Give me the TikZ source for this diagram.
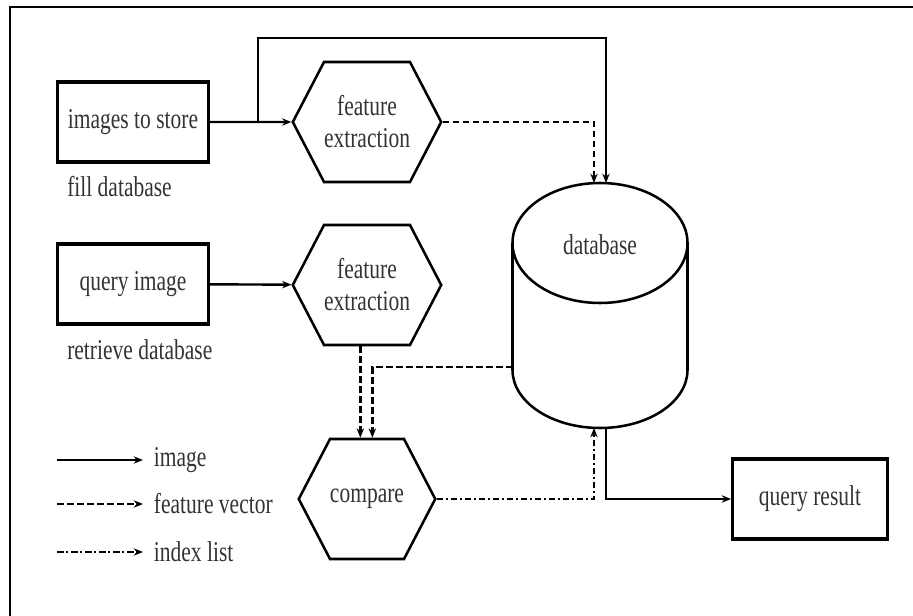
\documentclass[tikz,border=0pt]{standalone}
\usepackage{fontspec}
\setmainfont{Liberation Serif}[FakeStretch=0.75]
\usepackage{tikz}
\usetikzlibrary{shapes.symbols,arrows.meta}

\tikzset{
  box/.style={draw, line width=2.4pt, minimum width=113pt, minimum height=60pt},
  hexa/.style={draw, line width=1.9pt, shape=signal, signal to=east and west,
    signal pointer angle=125, minimum width=97.5pt, minimum height=90pt,
    align=center, inner sep=0pt},
  img/.style={line width=1.8pt, -{Stealth[length=7pt,width=5.5pt]}},
  fvec/.style={img, dash pattern=on 5pt off 2.5pt},
  idx/.style={img, dash pattern=on 5pt off 2pt on 1.5pt off 2pt}
}

\begin{document}
\begin{tikzpicture}[x=0.75pt, y=-0.75pt, font=\fontsize{21.5}{24}\selectfont, text=black!80]
  \useasboundingbox (0,0) rectangle (913,616);
  \draw[line width=2.2pt] (10,616) -- (10,7) -- (913,7);

  \node[box] (store) at (133,122) {images to store};
  \node[anchor=west, inner sep=0pt] (fill) at (67,187) {fill database};
  \node[box] (qimg) at (133,284) {query image};
  \node[anchor=west, inner sep=0pt] (retr) at (67,350) {retrieve database};

  \node[hexa] (fe1) at (367,122) {feature\\extraction};
  \node[hexa] (fe2) at (367,285) {feature\\extraction};
  \node[hexa] (cmp) at (367,499) {compare};

  \node[box, minimum width=116pt] (res) at (810,499) {query result};

  % database cylinder
  \draw[line width=1.9pt] (600,243) ellipse [x radius=87.5, y radius=60];
  \draw[line width=1.9pt] (512.5,243) -- (512.5,370)
    arc[start angle=180, end angle=0, x radius=87.5, y radius=58] -- (687.5,243);
  \node (db) at (600,245) {database};
  \coordinate (dbtopL) at (594,183);
  \coordinate (dbtopR) at (606,183);
  \coordinate (dbbotL) at (594,428);
  \coordinate (dbbotR) at (606,428);
  \coordinate (dbleft) at (512.5,367);
  \coordinate (split) at (258,122);

  \draw[img] (store) -- (fe1);
  \draw[img] (split) -- ++(0,-84) -| (dbtopR);
  \draw[fvec] (fe1) -| (dbtopL);
  \draw[img] (qimg) -- (fe2);
  \draw[fvec] ([xshift=-5pt]fe2.south) -- ([xshift=-5pt]cmp.north);
  \draw[fvec] (dbleft) -| ([xshift=4pt]cmp.north);
  \draw[idx] (cmp) -| (dbbotL);
  \draw[img] (dbbotR) |- (res);

  % legend
  \coordinate (l1) at (57,460);
  \coordinate (l2) at (57,504);
  \coordinate (l3) at (57,552);
  \node[anchor=west, inner xsep=8pt] (limg) at (143,460) {image};
  \node[anchor=west, inner xsep=8pt] (lfv) at (143,504) {feature vector};
  \node[anchor=west, inner xsep=8pt] (lidx) at (143,552) {index list};
  \draw[img] (l1) -- (limg);
  \draw[fvec] (l2) -- (lfv);
  \draw[idx] (l3) -- (lidx);
\end{tikzpicture}
\end{document}
